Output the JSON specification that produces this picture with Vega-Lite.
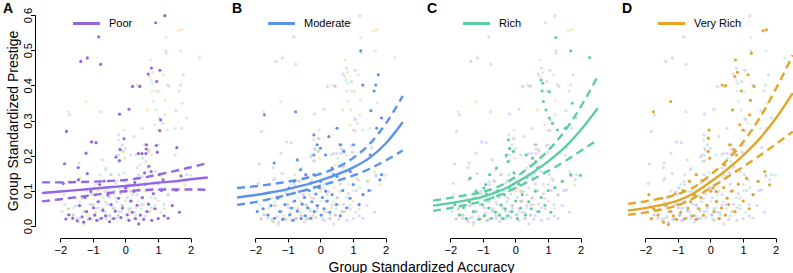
{
  "$schema": "https://vega.github.io/schema/vega-lite/v6.json",
  "background": "white",
  "padding": {"left": 3, "top": 2, "right": 0, "bottom": 0},
  "autosize": {"type": "pad"},
  "bounds": "flush",
  "spacing": 21,
  "config": {
    "view": {"stroke": null},
    "axis": {"grid": false, "domainColor": "black", "tickColor": "black", "labelColor": "black", "labelFont": "Liberation Sans", "labelFontSize": 11, "titleFont": "Liberation Sans", "titleFontSize": 14, "titleFontWeight": "normal", "titleColor": "black", "tickSize": 4, "labelFlush": false},
    "title": {"anchor": "start", "frame": "group", "fontSize": 14, "fontWeight": "bold", "font": "Liberation Sans", "color": "black", "offset": 0, "baseline": "top"},
    "legend": {"orient": "none", "legendX": 36, "legendY": 4, "symbolType": "stroke", "symbolSize": 730, "symbolStrokeWidth": 3, "labelFont": "Liberation Sans", "labelFontSize": 11, "labelColor": "black", "labelOffset": 7, "padding": 0}
  },
  "resolve": {"scale": {"stroke": "independent"}, "legend": {"stroke": "independent"}},
  "datasets": {
    "pts": [
      {"g": "Poor", "x": 1.21, "y": 0.598}, {"g": "Poor", "x": 0.93, "y": 0.578}, {"g": "Poor", "x": -0.82, "y": 0.538}, {"g": "Poor", "x": -1.37, "y": 0.468},
      {"g": "Poor", "x": -1.17, "y": 0.478}, {"g": "Poor", "x": -0.76, "y": 0.46}, {"g": "Poor", "x": 0.8, "y": 0.449}, {"g": "Poor", "x": 0.7, "y": 0.432},
      {"g": "Poor", "x": 1.06, "y": 0.443}, {"g": "Poor", "x": 0.96, "y": 0.411}, {"g": "Poor", "x": 0.22, "y": 0.397}, {"g": "Poor", "x": 0.44, "y": 0.397},
      {"g": "Poor", "x": -1.81, "y": 0.269}, {"g": "Poor", "x": -0.18, "y": 0.318}, {"g": "Poor", "x": 0.11, "y": 0.332}, {"g": "Poor", "x": 1.08, "y": 0.302},
      {"g": "Poor", "x": 1.06, "y": 0.271}, {"g": "Poor", "x": 0.65, "y": 0.231}, {"g": "Poor", "x": 0.64, "y": 0.219}, {"g": "Poor", "x": -0.04, "y": 0.248},
      {"g": "Poor", "x": -1.04, "y": 0.239}, {"g": "Poor", "x": -0.9, "y": 0.237}, {"g": "Poor", "x": -1.21, "y": 0.207}, {"g": "Poor", "x": 0.95, "y": 0.229},
      {"g": "Poor", "x": 1.58, "y": 0.223}, {"g": "Poor", "x": 0.4, "y": 0.206}, {"g": "Poor", "x": 0.51, "y": 0.206}, {"g": "Poor", "x": 0.63, "y": 0.206},
      {"g": "Poor", "x": 0.98, "y": 0.21}, {"g": "Poor", "x": -0.16, "y": 0.217}, {"g": "Poor", "x": -1.87, "y": 0.177}, {"g": "Poor", "x": -1.45, "y": 0.166},
      {"g": "Poor", "x": -1.17, "y": 0.149}, {"g": "Poor", "x": -0.29, "y": 0.196}, {"g": "Poor", "x": -0.18, "y": 0.186}, {"g": "Poor", "x": 0.72, "y": 0.17},
      {"g": "Poor", "x": 0.79, "y": 0.155}, {"g": "Poor", "x": 0.59, "y": 0.151}, {"g": "Poor", "x": 1.04, "y": 0.146},
      {"g": "Poor", "x": -1.83, "y": 0.02}, {"g": "Poor", "x": -1.74, "y": 0.032}, {"g": "Poor", "x": -1.62, "y": 0.022}, {"g": "Poor", "x": -1.48, "y": 0.015},
      {"g": "Poor", "x": -1.41, "y": 0.058}, {"g": "Poor", "x": -1.33, "y": 0.026}, {"g": "Poor", "x": -1.28, "y": 0.011}, {"g": "Poor", "x": -1.24, "y": 0.081},
      {"g": "Poor", "x": -1.19, "y": 0.041}, {"g": "Poor", "x": -1.09, "y": 0.021}, {"g": "Poor", "x": -1.06, "y": 0.098}, {"g": "Poor", "x": -0.98, "y": 0.052},
      {"g": "Poor", "x": -0.94, "y": 0.031}, {"g": "Poor", "x": -0.88, "y": 0.016}, {"g": "Poor", "x": -0.84, "y": 0.069}, {"g": "Poor", "x": -0.79, "y": 0.118},
      {"g": "Poor", "x": -0.74, "y": 0.022}, {"g": "Poor", "x": -0.69, "y": 0.045}, {"g": "Poor", "x": -0.61, "y": 0.029}, {"g": "Poor", "x": -0.54, "y": 0.088},
      {"g": "Poor", "x": -0.49, "y": 0.012}, {"g": "Poor", "x": -0.44, "y": 0.061}, {"g": "Poor", "x": -0.36, "y": 0.021}, {"g": "Poor", "x": -0.31, "y": 0.042},
      {"g": "Poor", "x": -0.21, "y": 0.079}, {"g": "Poor", "x": -0.14, "y": 0.024}, {"g": "Poor", "x": -0.09, "y": 0.051}, {"g": "Poor", "x": 0.01, "y": 0.108},
      {"g": "Poor", "x": 0.06, "y": 0.032}, {"g": "Poor", "x": 0.11, "y": 0.016}, {"g": "Poor", "x": 0.16, "y": 0.071}, {"g": "Poor", "x": 0.21, "y": 0.039},
      {"g": "Poor", "x": 0.26, "y": 0.098}, {"g": "Poor", "x": 0.31, "y": 0.021}, {"g": "Poor", "x": 0.36, "y": 0.059}, {"g": "Poor", "x": 0.41, "y": 0.006},
      {"g": "Poor", "x": 0.46, "y": 0.031}, {"g": "Poor", "x": 0.52, "y": 0.081}, {"g": "Poor", "x": 0.56, "y": 0.019}, {"g": "Poor", "x": 0.61, "y": 0.119},
      {"g": "Poor", "x": 0.66, "y": 0.041}, {"g": "Poor", "x": 0.71, "y": 0.062}, {"g": "Poor", "x": 0.81, "y": 0.016}, {"g": "Poor", "x": 0.86, "y": 0.092},
      {"g": "Poor", "x": 0.91, "y": 0.049}, {"g": "Poor", "x": 1.01, "y": 0.021}, {"g": "Poor", "x": 1.11, "y": 0.101}, {"g": "Poor", "x": 1.19, "y": 0.029},
      {"g": "Poor", "x": 1.31, "y": 0.022}, {"g": "Poor", "x": 1.44, "y": 0.058}, {"g": "Poor", "x": 1.56, "y": 0.102}, {"g": "Poor", "x": 1.66, "y": 0.039},
      {"g": "Poor", "x": -1.91, "y": 0.121}, {"g": "Poor", "x": -1.44, "y": 0.131}, {"g": "Poor", "x": -0.66, "y": 0.128}, {"g": "Poor", "x": 0.29, "y": 0.124},
      {"g": "Poor", "x": 1.16, "y": 0.131}, {"g": "Poor", "x": 1.71, "y": 0.142},

      {"g": "Moderate", "x": 1.24, "y": 0.498}, {"g": "Moderate", "x": 1.78, "y": 0.43}, {"g": "Moderate", "x": 1.7, "y": 0.401}, {"g": "Moderate", "x": 1.65, "y": 0.384},
      {"g": "Moderate", "x": 1.3, "y": 0.401}, {"g": "Moderate", "x": -0.76, "y": 0.325}, {"g": "Moderate", "x": -1.72, "y": 0.316}, {"g": "Moderate", "x": 1.55, "y": 0.328},
      {"g": "Moderate", "x": 0.51, "y": 0.278}, {"g": "Moderate", "x": 0.26, "y": 0.254}, {"g": "Moderate", "x": -0.2, "y": 0.259}, {"g": "Moderate", "x": 1.88, "y": 0.307},
      {"g": "Moderate", "x": 1.73, "y": 0.278}, {"g": "Moderate", "x": -0.1, "y": 0.231}, {"g": "Moderate", "x": 0.0, "y": 0.221}, {"g": "Moderate", "x": -0.2, "y": 0.202},
      {"g": "Moderate", "x": 0.16, "y": 0.202}, {"g": "Moderate", "x": -1.42, "y": 0.179}, {"g": "Moderate", "x": -0.71, "y": 0.188}, {"g": "Moderate", "x": 0.36, "y": 0.165},
      {"g": "Moderate", "x": 0.41, "y": 0.146}, {"g": "Moderate", "x": 0.61, "y": 0.231}, {"g": "Moderate", "x": 0.72, "y": 0.212}, {"g": "Moderate", "x": 1.02, "y": 0.231},
      {"g": "Moderate", "x": 1.53, "y": 0.202}, {"g": "Moderate", "x": 1.88, "y": 0.146}, {"g": "Moderate", "x": 1.83, "y": 0.131}, {"g": "Moderate", "x": -0.61, "y": 0.16},
      {"g": "Moderate", "x": -0.45, "y": 0.146}, {"g": "Moderate", "x": -0.2, "y": 0.146}, {"g": "Moderate", "x": -0.3, "y": 0.122}, {"g": "Moderate", "x": -0.81, "y": 0.127},
      {"g": "Moderate", "x": -0.96, "y": 0.108}, {"g": "Moderate", "x": 0.0, "y": 0.127}, {"g": "Moderate", "x": 0.51, "y": 0.141}, {"g": "Moderate", "x": 0.92, "y": 0.155},
      {"g": "Moderate", "x": -1.61, "y": 0.031}, {"g": "Moderate", "x": -1.52, "y": 0.058}, {"g": "Moderate", "x": -1.41, "y": 0.022}, {"g": "Moderate", "x": -1.31, "y": 0.079},
      {"g": "Moderate", "x": -1.24, "y": 0.041}, {"g": "Moderate", "x": -1.16, "y": 0.019}, {"g": "Moderate", "x": -1.09, "y": 0.061}, {"g": "Moderate", "x": -1.01, "y": 0.089},
      {"g": "Moderate", "x": -0.94, "y": 0.032}, {"g": "Moderate", "x": -0.89, "y": 0.051}, {"g": "Moderate", "x": -0.84, "y": 0.016}, {"g": "Moderate", "x": -0.79, "y": 0.071},
      {"g": "Moderate", "x": -0.71, "y": 0.042}, {"g": "Moderate", "x": -0.64, "y": 0.098}, {"g": "Moderate", "x": -0.59, "y": 0.021}, {"g": "Moderate", "x": -0.56, "y": 0.062},
      {"g": "Moderate", "x": -0.49, "y": 0.081}, {"g": "Moderate", "x": -0.46, "y": 0.029}, {"g": "Moderate", "x": -0.39, "y": 0.052}, {"g": "Moderate", "x": -0.34, "y": 0.101},
      {"g": "Moderate", "x": -0.29, "y": 0.022}, {"g": "Moderate", "x": -0.26, "y": 0.069}, {"g": "Moderate", "x": -0.19, "y": 0.041}, {"g": "Moderate", "x": -0.14, "y": 0.091},
      {"g": "Moderate", "x": -0.09, "y": 0.058}, {"g": "Moderate", "x": -0.04, "y": 0.109}, {"g": "Moderate", "x": 0.02, "y": 0.031}, {"g": "Moderate", "x": 0.06, "y": 0.081},
      {"g": "Moderate", "x": 0.11, "y": 0.049}, {"g": "Moderate", "x": 0.16, "y": 0.099}, {"g": "Moderate", "x": 0.21, "y": 0.071}, {"g": "Moderate", "x": 0.29, "y": 0.039},
      {"g": "Moderate", "x": 0.36, "y": 0.089}, {"g": "Moderate", "x": 0.49, "y": 0.061}, {"g": "Moderate", "x": 0.61, "y": 0.029}, {"g": "Moderate", "x": 0.69, "y": 0.101},
      {"g": "Moderate", "x": 0.81, "y": 0.052}, {"g": "Moderate", "x": 0.91, "y": 0.079}, {"g": "Moderate", "x": 1.01, "y": 0.118}, {"g": "Moderate", "x": 1.19, "y": 0.061},
      {"g": "Moderate", "x": 1.31, "y": 0.089}, {"g": "Moderate", "x": 1.49, "y": 0.101}, {"g": "Moderate", "x": -1.76, "y": 0.049}, {"g": "Moderate", "x": -1.94, "y": 0.041},

      {"g": "Rich", "x": 1.24, "y": 0.536}, {"g": "Rich", "x": 1.7, "y": 0.498}, {"g": "Rich", "x": 2.28, "y": 0.479}, {"g": "Rich", "x": 0.79, "y": 0.415},
      {"g": "Rich", "x": 0.84, "y": 0.406}, {"g": "Rich", "x": 0.82, "y": 0.384}, {"g": "Rich", "x": 1.04, "y": 0.382}, {"g": "Rich", "x": 0.86, "y": 0.354},
      {"g": "Rich", "x": 0.94, "y": 0.33}, {"g": "Rich", "x": 1.04, "y": 0.307}, {"g": "Rich", "x": 1.14, "y": 0.292}, {"g": "Rich", "x": 1.29, "y": 0.273},
      {"g": "Rich", "x": 1.53, "y": 0.278}, {"g": "Rich", "x": 1.75, "y": 0.349}, {"g": "Rich", "x": -0.21, "y": 0.245}, {"g": "Rich", "x": -0.18, "y": 0.221},
      {"g": "Rich", "x": -0.06, "y": 0.212}, {"g": "Rich", "x": -0.28, "y": 0.202}, {"g": "Rich", "x": -0.23, "y": 0.183}, {"g": "Rich", "x": 0.33, "y": 0.202},
      {"g": "Rich", "x": 0.53, "y": 0.193}, {"g": "Rich", "x": -1.39, "y": 0.136}, {"g": "Rich", "x": -0.97, "y": 0.108}, {"g": "Rich", "x": -0.89, "y": 0.091},
      {"g": "Rich", "x": -0.79, "y": 0.146}, {"g": "Rich", "x": -0.58, "y": 0.165}, {"g": "Rich", "x": 0.63, "y": 0.183}, {"g": "Rich", "x": 0.68, "y": 0.165},
      {"g": "Rich", "x": 1.7, "y": 0.146}, {"g": "Rich", "x": 2.0, "y": 0.144}, {"g": "Rich", "x": 1.44, "y": 0.127},
      {"g": "Rich", "x": -1.71, "y": 0.031}, {"g": "Rich", "x": -1.59, "y": 0.052}, {"g": "Rich", "x": -1.51, "y": 0.021}, {"g": "Rich", "x": -1.41, "y": 0.069},
      {"g": "Rich", "x": -1.29, "y": 0.041}, {"g": "Rich", "x": -1.21, "y": 0.099}, {"g": "Rich", "x": -1.11, "y": 0.019}, {"g": "Rich", "x": -1.02, "y": 0.061},
      {"g": "Rich", "x": -0.96, "y": 0.029}, {"g": "Rich", "x": -0.91, "y": 0.118}, {"g": "Rich", "x": -0.81, "y": 0.051}, {"g": "Rich", "x": -0.74, "y": 0.022},
      {"g": "Rich", "x": -0.69, "y": 0.081}, {"g": "Rich", "x": -0.61, "y": 0.039}, {"g": "Rich", "x": -0.54, "y": 0.101}, {"g": "Rich", "x": -0.49, "y": 0.031},
      {"g": "Rich", "x": -0.44, "y": 0.059}, {"g": "Rich", "x": -0.39, "y": 0.021}, {"g": "Rich", "x": -0.34, "y": 0.089}, {"g": "Rich", "x": -0.31, "y": 0.049},
      {"g": "Rich", "x": -0.24, "y": 0.029}, {"g": "Rich", "x": -0.19, "y": 0.109}, {"g": "Rich", "x": -0.11, "y": 0.041}, {"g": "Rich", "x": 0.01, "y": 0.071},
      {"g": "Rich", "x": 0.06, "y": 0.021}, {"g": "Rich", "x": 0.11, "y": 0.119}, {"g": "Rich", "x": 0.16, "y": 0.051}, {"g": "Rich", "x": 0.21, "y": 0.089},
      {"g": "Rich", "x": 0.31, "y": 0.031}, {"g": "Rich", "x": 0.41, "y": 0.069}, {"g": "Rich", "x": 0.49, "y": 0.049}, {"g": "Rich", "x": 0.61, "y": 0.099},
      {"g": "Rich", "x": 0.71, "y": 0.041}, {"g": "Rich", "x": 0.79, "y": 0.081}, {"g": "Rich", "x": 0.91, "y": 0.059}, {"g": "Rich", "x": 1.01, "y": 0.101},
      {"g": "Rich", "x": 1.09, "y": 0.039}, {"g": "Rich", "x": 1.21, "y": 0.109}, {"g": "Rich", "x": -1.86, "y": 0.061}, {"g": "Rich", "x": 0.36, "y": 0.139},
      {"g": "Rich", "x": -0.04, "y": 0.151},

      {"g": "Very Rich", "x": 1.62, "y": 0.555}, {"g": "Very Rich", "x": 1.72, "y": 0.558}, {"g": "Very Rich", "x": 1.26, "y": 0.491}, {"g": "Very Rich", "x": 0.77, "y": 0.472},
      {"g": "Very Rich", "x": 0.83, "y": 0.437}, {"g": "Very Rich", "x": 0.75, "y": 0.425}, {"g": "Very Rich", "x": 1.16, "y": 0.43}, {"g": "Very Rich", "x": 0.36, "y": 0.401},
      {"g": "Very Rich", "x": 0.47, "y": 0.399}, {"g": "Very Rich", "x": 1.34, "y": 0.397}, {"g": "Very Rich", "x": 0.95, "y": 0.384}, {"g": "Very Rich", "x": -1.22, "y": 0.354},
      {"g": "Very Rich", "x": -1.75, "y": 0.325}, {"g": "Very Rich", "x": 0.68, "y": 0.33}, {"g": "Very Rich", "x": 1.23, "y": 0.357}, {"g": "Very Rich", "x": 1.21, "y": 0.316},
      {"g": "Very Rich", "x": -0.04, "y": 0.273}, {"g": "Very Rich", "x": -0.07, "y": 0.25}, {"g": "Very Rich", "x": 0.9, "y": 0.288}, {"g": "Very Rich", "x": 1.0, "y": 0.273},
      {"g": "Very Rich", "x": 0.59, "y": 0.231}, {"g": "Very Rich", "x": 0.72, "y": 0.217}, {"g": "Very Rich", "x": 0.8, "y": 0.202}, {"g": "Very Rich", "x": -0.07, "y": 0.212},
      {"g": "Very Rich", "x": -0.02, "y": 0.193}, {"g": "Very Rich", "x": 0.44, "y": 0.174}, {"g": "Very Rich", "x": -0.43, "y": 0.146}, {"g": "Very Rich", "x": -0.64, "y": 0.127},
      {"g": "Very Rich", "x": 0.08, "y": 0.108}, {"g": "Very Rich", "x": 0.18, "y": 0.098}, {"g": "Very Rich", "x": 1.11, "y": 0.136}, {"g": "Very Rich", "x": 1.47, "y": 0.127},
      {"g": "Very Rich", "x": 1.82, "y": 0.117}, {"g": "Very Rich", "x": 1.67, "y": 0.155},
      {"g": "Very Rich", "x": -1.81, "y": 0.021}, {"g": "Very Rich", "x": -1.74, "y": 0.049}, {"g": "Very Rich", "x": -1.61, "y": 0.031}, {"g": "Very Rich", "x": -1.49, "y": 0.079},
      {"g": "Very Rich", "x": -1.44, "y": 0.011}, {"g": "Very Rich", "x": -1.36, "y": 0.059}, {"g": "Very Rich", "x": -1.29, "y": 0.004}, {"g": "Very Rich", "x": -1.24, "y": 0.041},
      {"g": "Very Rich", "x": -1.14, "y": 0.029}, {"g": "Very Rich", "x": -1.09, "y": 0.091}, {"g": "Very Rich", "x": -1.04, "y": 0.019}, {"g": "Very Rich", "x": -0.99, "y": 0.061},
      {"g": "Very Rich", "x": -0.91, "y": 0.039}, {"g": "Very Rich", "x": -0.84, "y": 0.101}, {"g": "Very Rich", "x": -0.79, "y": 0.021}, {"g": "Very Rich", "x": -0.69, "y": 0.051},
      {"g": "Very Rich", "x": -0.61, "y": 0.069}, {"g": "Very Rich", "x": -0.54, "y": 0.029}, {"g": "Very Rich", "x": -0.49, "y": 0.089}, {"g": "Very Rich", "x": -0.44, "y": 0.019},
      {"g": "Very Rich", "x": -0.36, "y": 0.049}, {"g": "Very Rich", "x": -0.29, "y": 0.081}, {"g": "Very Rich", "x": -0.21, "y": 0.031}, {"g": "Very Rich", "x": -0.11, "y": 0.059},
      {"g": "Very Rich", "x": 0.01, "y": 0.099}, {"g": "Very Rich", "x": 0.11, "y": 0.041}, {"g": "Very Rich", "x": 0.19, "y": 0.069}, {"g": "Very Rich", "x": 0.26, "y": 0.021},
      {"g": "Very Rich", "x": 0.34, "y": 0.051}, {"g": "Very Rich", "x": 0.41, "y": 0.109}, {"g": "Very Rich", "x": 0.46, "y": 0.031}, {"g": "Very Rich", "x": 0.51, "y": 0.079},
      {"g": "Very Rich", "x": 0.56, "y": 0.061}, {"g": "Very Rich", "x": 0.66, "y": 0.099}, {"g": "Very Rich", "x": 0.76, "y": 0.041}, {"g": "Very Rich", "x": 0.86, "y": 0.119},
      {"g": "Very Rich", "x": 1.01, "y": 0.071}, {"g": "Very Rich", "x": 1.19, "y": 0.049}, {"g": "Very Rich", "x": 1.31, "y": 0.089}, {"g": "Very Rich", "x": -1.89, "y": 0.089},
      {"g": "Very Rich", "x": -0.26, "y": 0.129}
    ],
    "fits": [
      {"g": "Poor", "x": -2.56, "fit": 0.094, "lo": 0.07, "hi": 0.124},
      {"g": "Poor", "x": -2, "fit": 0.098, "lo": 0.076, "hi": 0.124},
      {"g": "Poor", "x": -1.5, "fit": 0.102, "lo": 0.082, "hi": 0.125},
      {"g": "Poor", "x": -1, "fit": 0.106, "lo": 0.088, "hi": 0.126},
      {"g": "Poor", "x": -0.5, "fit": 0.11, "lo": 0.094, "hi": 0.128},
      {"g": "Poor", "x": 0, "fit": 0.114, "lo": 0.099, "hi": 0.131},
      {"g": "Poor", "x": 0.5, "fit": 0.118, "lo": 0.102, "hi": 0.137},
      {"g": "Poor", "x": 1, "fit": 0.123, "lo": 0.104, "hi": 0.146},
      {"g": "Poor", "x": 1.5, "fit": 0.127, "lo": 0.104, "hi": 0.156},
      {"g": "Poor", "x": 2, "fit": 0.133, "lo": 0.104, "hi": 0.167},
      {"g": "Poor", "x": 2.53, "fit": 0.138, "lo": 0.103, "hi": 0.179},
      {"g": "Moderate", "x": -2.56, "fit": 0.081, "lo": 0.06, "hi": 0.108},
      {"g": "Moderate", "x": -2, "fit": 0.088, "lo": 0.068, "hi": 0.113},
      {"g": "Moderate", "x": -1.5, "fit": 0.096, "lo": 0.078, "hi": 0.119},
      {"g": "Moderate", "x": -1, "fit": 0.105, "lo": 0.089, "hi": 0.126},
      {"g": "Moderate", "x": -0.5, "fit": 0.116, "lo": 0.101, "hi": 0.135},
      {"g": "Moderate", "x": 0, "fit": 0.13, "lo": 0.115, "hi": 0.148},
      {"g": "Moderate", "x": 0.5, "fit": 0.146, "lo": 0.128, "hi": 0.166},
      {"g": "Moderate", "x": 1, "fit": 0.166, "lo": 0.143, "hi": 0.193},
      {"g": "Moderate", "x": 1.5, "fit": 0.193, "lo": 0.162, "hi": 0.232},
      {"g": "Moderate", "x": 2, "fit": 0.234, "lo": 0.186, "hi": 0.29},
      {"g": "Moderate", "x": 2.53, "fit": 0.295, "lo": 0.215, "hi": 0.37},
      {"g": "Rich", "x": -2.53, "fit": 0.058, "lo": 0.043, "hi": 0.072},
      {"g": "Rich", "x": -2, "fit": 0.065, "lo": 0.051, "hi": 0.08},
      {"g": "Rich", "x": -1.5, "fit": 0.073, "lo": 0.06, "hi": 0.088},
      {"g": "Rich", "x": -1, "fit": 0.083, "lo": 0.071, "hi": 0.097},
      {"g": "Rich", "x": -0.5, "fit": 0.099, "lo": 0.087, "hi": 0.113},
      {"g": "Rich", "x": 0, "fit": 0.122, "lo": 0.108, "hi": 0.139},
      {"g": "Rich", "x": 0.5, "fit": 0.15, "lo": 0.131, "hi": 0.172},
      {"g": "Rich", "x": 1, "fit": 0.183, "lo": 0.156, "hi": 0.214},
      {"g": "Rich", "x": 1.5, "fit": 0.222, "lo": 0.183, "hi": 0.268},
      {"g": "Rich", "x": 2, "fit": 0.272, "lo": 0.213, "hi": 0.338},
      {"g": "Rich", "x": 2.53, "fit": 0.335, "lo": 0.245, "hi": 0.425},
      {"g": "Very Rich", "x": -2.53, "fit": 0.044, "lo": 0.032, "hi": 0.063},
      {"g": "Very Rich", "x": -2, "fit": 0.051, "lo": 0.038, "hi": 0.07},
      {"g": "Very Rich", "x": -1.5, "fit": 0.06, "lo": 0.047, "hi": 0.079},
      {"g": "Very Rich", "x": -1, "fit": 0.072, "lo": 0.059, "hi": 0.091},
      {"g": "Very Rich", "x": -0.5, "fit": 0.094, "lo": 0.08, "hi": 0.111},
      {"g": "Very Rich", "x": 0, "fit": 0.125, "lo": 0.108, "hi": 0.145},
      {"g": "Very Rich", "x": 0.5, "fit": 0.16, "lo": 0.138, "hi": 0.186},
      {"g": "Very Rich", "x": 1, "fit": 0.2, "lo": 0.168, "hi": 0.238},
      {"g": "Very Rich", "x": 1.5, "fit": 0.247, "lo": 0.199, "hi": 0.305},
      {"g": "Very Rich", "x": 2, "fit": 0.305, "lo": 0.232, "hi": 0.388},
      {"g": "Very Rich", "x": 2.53, "fit": 0.378, "lo": 0.268, "hi": 0.486}
    ]
  },
  "hconcat": [
    {
      "width": 174, "height": 234,
      "title": {"text": "A", "dx": -32, "dy": 16},
      "encoding": {"x": {"field": "x", "type": "quantitative", "scale": {"domain": [-2, 2], "range": [25.3, 155.5], "nice": false, "zero": false}, "axis": {"values": [-2, -1, 0, 1, 2], "title": null, "labelPadding": 2}}},
      "layer": [
        {"data": {"name": "pts"}, "transform": [{"filter": "datum.g !== 'Poor'"}], "mark": {"type": "circle", "size": 10, "opacity": 0.28},
         "encoding": {"y": {"field": "y", "type": "quantitative", "title": "Group Standardized Prestige", "scale": {"domain": [0, 0.6], "range": [222, 11], "nice": false, "zero": false}, "axis": {"values": [0, 0.1, 0.2, 0.3, 0.4, 0.5, 0.6], "format": ".1f", "labelAngle": -90, "labelAlign": "center", "labelBaseline": "alphabetic", "labelPadding": 0, "titlePadding": 2}},
          "color": {"field": "g", "type": "nominal", "scale": {"domain": ["Poor", "Moderate", "Rich", "Very Rich"], "range": ["#9366e3", "#5b92eb", "#5ccda2", "#e2a526"]}, "legend": null}}},
        {"data": {"name": "pts"}, "transform": [{"filter": "datum.g === 'Poor'"}], "mark": {"type": "circle", "size": 10, "opacity": 1},
         "encoding": {"y": {"field": "y", "type": "quantitative", "title": "Group Standardized Prestige", "scale": {"domain": [0, 0.6], "range": [222, 11], "nice": false, "zero": false}, "axis": {"values": [0, 0.1, 0.2, 0.3, 0.4, 0.5, 0.6], "format": ".1f", "labelAngle": -90, "labelAlign": "center", "labelBaseline": "alphabetic", "labelPadding": 0, "titlePadding": 2}},
          "color": {"field": "g", "type": "nominal", "scale": {"domain": ["Poor", "Moderate", "Rich", "Very Rich"], "range": ["#9366e3", "#5b92eb", "#5ccda2", "#e2a526"]}, "legend": null}}},
        {"data": {"name": "fits"}, "transform": [{"filter": "datum.g === 'Poor'"}], "mark": {"type": "line", "color": "#9366e3", "strokeWidth": 2.4, "strokeDash": [8, 5], "interpolate": "monotone"},
         "encoding": {"y": {"field": "lo", "type": "quantitative", "title": "Group Standardized Prestige", "scale": {"domain": [0, 0.6], "range": [222, 11], "nice": false, "zero": false}, "axis": {"values": [0, 0.1, 0.2, 0.3, 0.4, 0.5, 0.6], "format": ".1f", "labelAngle": -90, "labelAlign": "center", "labelBaseline": "alphabetic", "labelPadding": 0, "titlePadding": 2}}}},
        {"data": {"name": "fits"}, "transform": [{"filter": "datum.g === 'Poor'"}], "mark": {"type": "line", "color": "#9366e3", "strokeWidth": 2.4, "strokeDash": [8, 5], "interpolate": "monotone"},
         "encoding": {"y": {"field": "hi", "type": "quantitative", "title": "Group Standardized Prestige", "scale": {"domain": [0, 0.6], "range": [222, 11], "nice": false, "zero": false}, "axis": {"values": [0, 0.1, 0.2, 0.3, 0.4, 0.5, 0.6], "format": ".1f", "labelAngle": -90, "labelAlign": "center", "labelBaseline": "alphabetic", "labelPadding": 0, "titlePadding": 2}}}},
        {"data": {"name": "fits"}, "transform": [{"filter": "datum.g === 'Poor'"}], "mark": {"type": "line", "strokeWidth": 2.4, "interpolate": "monotone"},
         "encoding": {"y": {"field": "fit", "type": "quantitative", "title": "Group Standardized Prestige", "scale": {"domain": [0, 0.6], "range": [222, 11], "nice": false, "zero": false}, "axis": {"values": [0, 0.1, 0.2, 0.3, 0.4, 0.5, 0.6], "format": ".1f", "labelAngle": -90, "labelAlign": "center", "labelBaseline": "alphabetic", "labelPadding": 0, "titlePadding": 2}},
          "stroke": {"field": "g", "type": "nominal", "scale": {"domain": ["Poor"], "range": ["#9366e3"]}, "legend": {"title": null}}}}
      ]
    },
    {
      "width": 174, "height": 234,
      "title": {"text": "B", "dx": 2, "dy": 16},
      "encoding": {"x": {"field": "x", "type": "quantitative", "scale": {"domain": [-2, 2], "range": [25.3, 155.5], "nice": false, "zero": false}, "axis": {"values": [-2, -1, 0, 1, 2], "title": "Group Standardized Accuracy", "titleX": 191, "titleY": 33, "titleAlign": "center", "titleBaseline": "alphabetic", "titleAnchor": null, "labelPadding": 2}}},
      "layer": [
        {"data": {"name": "pts"}, "transform": [{"filter": "datum.g !== 'Moderate'"}], "mark": {"type": "circle", "size": 10, "opacity": 0.28},
         "encoding": {"y": {"field": "y", "type": "quantitative", "scale": {"domain": [0, 0.6], "range": [222, 11], "nice": false, "zero": false}, "axis": null},
          "color": {"field": "g", "type": "nominal", "scale": {"domain": ["Poor", "Moderate", "Rich", "Very Rich"], "range": ["#9366e3", "#5b92eb", "#5ccda2", "#e2a526"]}, "legend": null}}},
        {"data": {"name": "pts"}, "transform": [{"filter": "datum.g === 'Moderate'"}], "mark": {"type": "circle", "size": 10, "opacity": 1},
         "encoding": {"y": {"field": "y", "type": "quantitative", "scale": {"domain": [0, 0.6], "range": [222, 11], "nice": false, "zero": false}, "axis": null},
          "color": {"field": "g", "type": "nominal", "scale": {"domain": ["Poor", "Moderate", "Rich", "Very Rich"], "range": ["#9366e3", "#5b92eb", "#5ccda2", "#e2a526"]}, "legend": null}}},
        {"data": {"name": "fits"}, "transform": [{"filter": "datum.g === 'Moderate'"}], "mark": {"type": "line", "color": "#5b92eb", "strokeWidth": 2.4, "strokeDash": [8, 5], "interpolate": "monotone"},
         "encoding": {"y": {"field": "lo", "type": "quantitative", "scale": {"domain": [0, 0.6], "range": [222, 11], "nice": false, "zero": false}, "axis": null}}},
        {"data": {"name": "fits"}, "transform": [{"filter": "datum.g === 'Moderate'"}], "mark": {"type": "line", "color": "#5b92eb", "strokeWidth": 2.4, "strokeDash": [8, 5], "interpolate": "monotone"},
         "encoding": {"y": {"field": "hi", "type": "quantitative", "scale": {"domain": [0, 0.6], "range": [222, 11], "nice": false, "zero": false}, "axis": null}}},
        {"data": {"name": "fits"}, "transform": [{"filter": "datum.g === 'Moderate'"}], "mark": {"type": "line", "strokeWidth": 2.4, "interpolate": "monotone"},
         "encoding": {"y": {"field": "fit", "type": "quantitative", "scale": {"domain": [0, 0.6], "range": [222, 11], "nice": false, "zero": false}, "axis": null},
          "stroke": {"field": "g", "type": "nominal", "scale": {"domain": ["Moderate"], "range": ["#5b92eb"]}, "legend": {"title": null}}}}
      ]
    },
    {
      "width": 174, "height": 234,
      "title": {"text": "C", "dx": 2, "dy": 16},
      "encoding": {"x": {"field": "x", "type": "quantitative", "scale": {"domain": [-2, 2], "range": [25.3, 155.5], "nice": false, "zero": false}, "axis": {"values": [-2, -1, 0, 1, 2], "title": null, "labelPadding": 2}}},
      "layer": [
        {"data": {"name": "pts"}, "transform": [{"filter": "datum.g !== 'Rich'"}], "mark": {"type": "circle", "size": 10, "opacity": 0.28},
         "encoding": {"y": {"field": "y", "type": "quantitative", "scale": {"domain": [0, 0.6], "range": [222, 11], "nice": false, "zero": false}, "axis": null},
          "color": {"field": "g", "type": "nominal", "scale": {"domain": ["Poor", "Moderate", "Rich", "Very Rich"], "range": ["#9366e3", "#5b92eb", "#5ccda2", "#e2a526"]}, "legend": null}}},
        {"data": {"name": "pts"}, "transform": [{"filter": "datum.g === 'Rich'"}], "mark": {"type": "circle", "size": 10, "opacity": 1},
         "encoding": {"y": {"field": "y", "type": "quantitative", "scale": {"domain": [0, 0.6], "range": [222, 11], "nice": false, "zero": false}, "axis": null},
          "color": {"field": "g", "type": "nominal", "scale": {"domain": ["Poor", "Moderate", "Rich", "Very Rich"], "range": ["#9366e3", "#5b92eb", "#5ccda2", "#e2a526"]}, "legend": null}}},
        {"data": {"name": "fits"}, "transform": [{"filter": "datum.g === 'Rich'"}], "mark": {"type": "line", "color": "#5ccda2", "strokeWidth": 2.4, "strokeDash": [8, 5], "interpolate": "monotone"},
         "encoding": {"y": {"field": "lo", "type": "quantitative", "scale": {"domain": [0, 0.6], "range": [222, 11], "nice": false, "zero": false}, "axis": null}}},
        {"data": {"name": "fits"}, "transform": [{"filter": "datum.g === 'Rich'"}], "mark": {"type": "line", "color": "#5ccda2", "strokeWidth": 2.4, "strokeDash": [8, 5], "interpolate": "monotone"},
         "encoding": {"y": {"field": "hi", "type": "quantitative", "scale": {"domain": [0, 0.6], "range": [222, 11], "nice": false, "zero": false}, "axis": null}}},
        {"data": {"name": "fits"}, "transform": [{"filter": "datum.g === 'Rich'"}], "mark": {"type": "line", "strokeWidth": 2.4, "interpolate": "monotone"},
         "encoding": {"y": {"field": "fit", "type": "quantitative", "scale": {"domain": [0, 0.6], "range": [222, 11], "nice": false, "zero": false}, "axis": null},
          "stroke": {"field": "g", "type": "nominal", "scale": {"domain": ["Rich"], "range": ["#5ccda2"]}, "legend": {"title": null}}}}
      ]
    },
    {
      "width": 174, "height": 234,
      "title": {"text": "D", "dx": 2, "dy": 16},
      "encoding": {"x": {"field": "x", "type": "quantitative", "scale": {"domain": [-2, 2], "range": [25.3, 155.5], "nice": false, "zero": false}, "axis": {"values": [-2, -1, 0, 1, 2], "title": null, "labelPadding": 2}}},
      "layer": [
        {"data": {"name": "pts"}, "transform": [{"filter": "datum.g !== 'Very Rich'"}], "mark": {"type": "circle", "size": 10, "opacity": 0.28},
         "encoding": {"y": {"field": "y", "type": "quantitative", "scale": {"domain": [0, 0.6], "range": [222, 11], "nice": false, "zero": false}, "axis": null},
          "color": {"field": "g", "type": "nominal", "scale": {"domain": ["Poor", "Moderate", "Rich", "Very Rich"], "range": ["#9366e3", "#5b92eb", "#5ccda2", "#e2a526"]}, "legend": null}}},
        {"data": {"name": "pts"}, "transform": [{"filter": "datum.g === 'Very Rich'"}], "mark": {"type": "circle", "size": 10, "opacity": 1},
         "encoding": {"y": {"field": "y", "type": "quantitative", "scale": {"domain": [0, 0.6], "range": [222, 11], "nice": false, "zero": false}, "axis": null},
          "color": {"field": "g", "type": "nominal", "scale": {"domain": ["Poor", "Moderate", "Rich", "Very Rich"], "range": ["#9366e3", "#5b92eb", "#5ccda2", "#e2a526"]}, "legend": null}}},
        {"data": {"name": "fits"}, "transform": [{"filter": "datum.g === 'Very Rich'"}], "mark": {"type": "line", "color": "#e2a526", "strokeWidth": 2.4, "strokeDash": [8, 5], "interpolate": "monotone"},
         "encoding": {"y": {"field": "lo", "type": "quantitative", "scale": {"domain": [0, 0.6], "range": [222, 11], "nice": false, "zero": false}, "axis": null}}},
        {"data": {"name": "fits"}, "transform": [{"filter": "datum.g === 'Very Rich'"}], "mark": {"type": "line", "color": "#e2a526", "strokeWidth": 2.4, "strokeDash": [8, 5], "interpolate": "monotone"},
         "encoding": {"y": {"field": "hi", "type": "quantitative", "scale": {"domain": [0, 0.6], "range": [222, 11], "nice": false, "zero": false}, "axis": null}}},
        {"data": {"name": "fits"}, "transform": [{"filter": "datum.g === 'Very Rich'"}], "mark": {"type": "line", "strokeWidth": 2.4, "interpolate": "monotone"},
         "encoding": {"y": {"field": "fit", "type": "quantitative", "scale": {"domain": [0, 0.6], "range": [222, 11], "nice": false, "zero": false}, "axis": null},
          "stroke": {"field": "g", "type": "nominal", "scale": {"domain": ["Very Rich"], "range": ["#e2a526"]}, "legend": {"title": null}}}}
      ]
    }
  ]
}
